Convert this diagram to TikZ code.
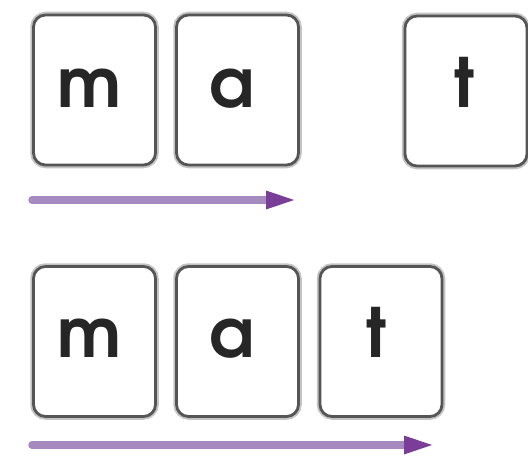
\documentclass[tikz,border=0pt]{standalone}
\usepackage{fontspec}
\newfontfamily\adv{TeX Gyre Adventor}
\definecolor{tileedge}{HTML}{555555}
\definecolor{tileglow}{HTML}{C4C4C4}
\definecolor{shaftc}{HTML}{A48ABF}
\definecolor{headc}{HTML}{7A3E98}
\begin{document}
\begin{tikzpicture}[x=1pt,y=-1pt,
  tile/.style={draw=tileedge, line width=2.8pt, fill=white, rounded corners=12pt,
    minimum width=122pt, minimum height=150pt, inner sep=0pt,
    preaction={draw=tileglow, line width=6.5pt, rounded corners=12pt}},
  letter/.style={anchor=base, inner sep=0pt, font=\adv\bfseries\fontsize{68}{68}\selectfont, text=black!85},
  shaft/.style={draw=shaftc, line width=7.5pt, line cap=round},
  headtip/.style={fill=headc, draw=none}]
\useasboundingbox (0,0) rectangle (528,460);
% row 1
\node[tile] (m1) at (94.5,90) {};
\node[tile] (a1) at (237.5,90) {};
\node[tile] (t1) at (466,91) {};
\node[letter] (lm1) at (89,108) {m};
\node[letter] (la1) at (232,108) {a};
\node[letter] (lt1) at (465,108) {t};
\coordinate (s1) at (32,200);
\coordinate (e1) at (270,200);
\coordinate (h1) at (294,200);
\draw[shaft] (s1) -- (e1);
\fill[headtip] (266,190.5) -- (h1) -- (266,209.5) -- cycle;
% row 2
\node[tile] (m2) at (94.5,341.5) {};
\node[tile] (a2) at (237.5,341.5) {};
\node[tile] (t2) at (381,341.5) {};
\node[letter] (lm2) at (89,357) {m};
\node[letter] (la2) at (232,357) {a};
\node[letter] (lt2) at (377,357) {t};
\coordinate (s2) at (32,445);
\coordinate (e2) at (408,445);
\coordinate (h2) at (432,445);
\draw[shaft] (s2) -- (e2);
\fill[headtip] (404,435.5) -- (h2) -- (404,454.5) -- cycle;
\end{tikzpicture}
\end{document}
